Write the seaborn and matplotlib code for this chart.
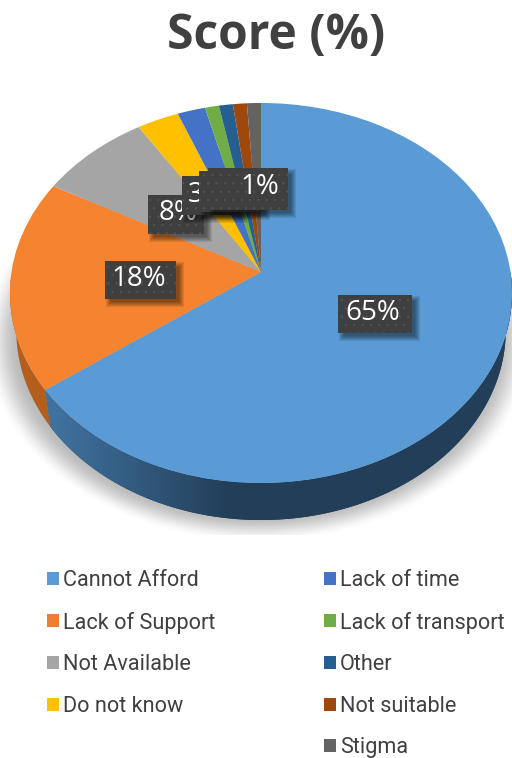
import numpy as np
import matplotlib
matplotlib.use("Agg")
import matplotlib.pyplot as plt
import seaborn as sns
from matplotlib.patches import Patch, Polygon, Rectangle
from matplotlib.transforms import Transform

categories = ["Cannot Afford", "Lack of Support", "Not Available", "Do not know",
              "Lack of time", "Lack of transport", "Other", "Not suitable", "Stigma"]
scores = [65, 18, 8, 3, 2, 1, 1, 1, 1]
title = "Score (%)"
office = ["#5B9BD5", "#F5832F", "#A5A5A5", "#FFC000", "#4472C4",
          "#70AD47", "#255E91", "#9E480E", "#636363"]
# label boxes in pixels: left, top, right, bottom, per category (draw order below)
label_boxes = {0: (338, 295, 412, 333), 1: (105, 261, 176, 299), 2: (148, 195, 204, 234),
               3: (182, 176, 240, 215), 4: (199, 171, 262, 212), 5: (208, 168, 288, 210)}

sns.set_theme(style="white")
plt.rcParams["font.family"] = ["Open Sans", "DejaVu Sans"]
plt.rcParams["hatch.linewidth"] = 0.3
colors = sns.color_palette(office)

CX, CY = 261.0, 272.0   # apex of the slices, in pixels
SX, SY, K = 249.5, 187.7, 0.1105
DEPTH, SHRINK = 37.0, 0.975


class Perspective(Transform):
    input_dims = output_dims = 2
    is_affine = False

    def transform_non_affine(self, values):
        v = np.asarray(values, float)
        w = 1 + K * v[:, 1]
        return np.column_stack([CX + SX * v[:, 0] / w, CY - SY * v[:, 1] / w])


warp = Perspective()

fig = plt.figure(figsize=(5.12, 7.58), dpi=100, facecolor="white")
ax = fig.add_axes([0, 0, 1, 1])
wedges, _ = ax.pie(scores, colors=colors, startangle=90, counterclock=False,
                   wedgeprops={"linewidth": 0, "zorder": 3})
for w in wedges:
    w.set_transform(warp + ax.transData)
ax.set_aspect("auto")
ax.axis("off")

# soft ground shadow
yy, xx = np.mgrid[0:758, 0:512]
r = np.hypot((xx - 258) / 258.0, (yy - 340) / 190.0)
t = np.clip((14 - (r - 1) * 215) / 30, 0, 1)
alpha = 0.27 * t * t * (3 - 2 * t) * (yy < 535)
rgba = np.zeros((758, 512, 4))
rgba[..., 3] = alpha
ax.imshow(rgba, extent=(0, 512, 758, 0), aspect="auto", zorder=0, interpolation="bilinear")


def side_polygon(a, b, color):
    th = np.radians(np.linspace(a, b, 160))
    top = warp.transform_non_affine(np.column_stack([np.cos(th), np.sin(th)]))
    bot = np.column_stack([CX + (top[:, 0] - CX) * SHRINK, top[:, 1] + DEPTH])
    return Polygon(np.vstack([top, bot[::-1]]), closed=True, facecolor=color,
                   edgecolor="none", zorder=1)


# extruded rim: blue slice with a horizontal gradient, orange slice flat
w0 = wedges[0]
blue_side = side_polygon(w0.theta1, 0, "#21405a")
ax.add_patch(blue_side)
ramp = np.clip((np.arange(512) - 55) / 175.0, 0, 1)
c0, c1 = np.array([0x40, 0x72, 0x9f]) / 255, np.array([0x22, 0x3e, 0x58]) / 255
grad = (c0[None, :] * (1 - ramp[:, None]) + c1[None, :] * ramp[:, None])[None, :, :]
im = ax.imshow(grad, extent=(0, 512, 758, 0), aspect="auto", zorder=1.5)
im.set_clip_path(blue_side)
ax.add_patch(side_polygon(w0.theta1, -178, "#B35E1C"))
ax.set_xlim(0, 512)
ax.set_ylim(758, 0)


# data labels (dark dotted boxes with a soft shadow)
def add_label(idx, box, z, text_xy=None):
    x0, y0, x1, y1 = box
    for i in range(6):
        ax.add_patch(Rectangle((x0 + 6 - i, y0 + 6 - i), x1 - x0 + 2 * i - 3, y1 - y0 + 2 * i - 3,
                               facecolor="black", edgecolor="none", alpha=0.09, zorder=z))
    ax.add_patch(Rectangle((x0, y0), x1 - x0, y1 - y0, facecolor="#3f3f3f", edgecolor="#555555",
                           linewidth=0, hatch="..", zorder=z + 0.1))
    tx, ty = text_xy if text_xy else ((x0 + x1) / 2, (y0 + y1) / 2)
    ax.text(tx, ty, f"{scores[idx]}%", color="white", fontsize=20, ha="center", va="center",
            zorder=z + 0.2)


add_label(1, label_boxes[1], 5, (139, 279))
add_label(0, label_boxes[0], 6, (373, 313))
add_label(2, label_boxes[2], 7, (178, 213))
add_label(3, label_boxes[3], 8, (207, 195))
add_label(4, label_boxes[4], 9, (230, 191))
add_label(5, label_boxes[5], 10, (260, 187))

fig.suptitle(title, x=276.5 / 512, y=1 - 36 / 758, va="center", ha="center",
             fontsize=34.6, fontweight="bold", color="#404040")


def legend(idx, left, top):
    handles = [Patch(facecolor=office[i] if i != 1 else "#ED7D31", edgecolor="none") for i in idx]
    return fig.legend(handles, [categories[i] for i in idx], loc="upper left",
                      bbox_to_anchor=(left / 512, 1 - top / 758), frameon=False,
                      prop={"family": ["Roboto", "Open Sans"], "size": 15.6},
                      labelcolor="#404040", handlelength=0.55, handleheight=0.55, handletextpad=0.18,
                      labelspacing=0.95, borderpad=0, borderaxespad=0)


legend([0, 1, 2, 3], 47, 570)
legend([4, 5, 6, 7, 8], 324, 570)

fig.savefig("out.png", dpi=100)
